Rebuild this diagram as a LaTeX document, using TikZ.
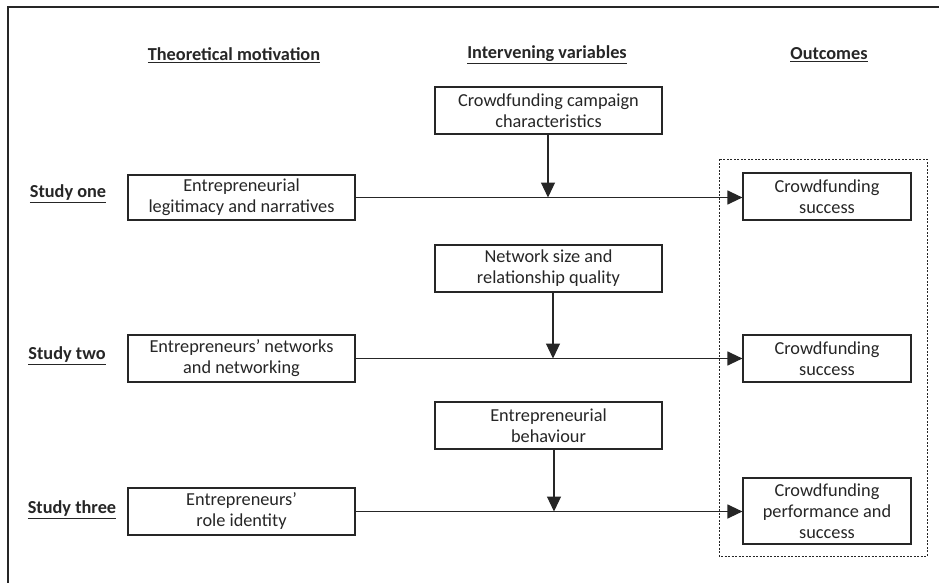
\documentclass[tikz,border=0pt]{standalone}
\usepackage{fontspec}
\setmainfont{Carlito}
\usetikzlibrary{arrows.meta}
\begin{document}
\begin{tikzpicture}[x=1pt,y=-1pt,
  box/.style={draw=black!85,line width=1.2pt,inner sep=0pt,align=center,text=black!85,font=\fontsize{18.3}{21}\selectfont},
  hdr/.style={font=\bfseries\fontsize{18.3}{21}\selectfont,inner sep=0pt,text=black!85},
  conn/.style={draw=black!85,line width=1.2pt},
  tip/.style={-{Triangle[length=15pt,width=14pt]}}]
\useasboundingbox (0,0) rectangle (939,583);
\fill[white] (0,0) rectangle (939,583);
\draw[line width=1.2pt,black!85] (8,590) -- (8,7) -- (945,7);
% headers
\node[hdr] (h1) at (234,55) {\underline{Theoretical motivation}};
\node[hdr] (h2) at (547,55) {\underline{Intervening variables}};
\node[hdr] (h3) at (829,55) {\underline{Outcomes}};
% study labels
\node[hdr] (s1) at (68,194) {\underline{Study one}};
\node[hdr] (s2) at (67,356) {\underline{Study two}};
\node[hdr] (s3) at (72,510) {\underline{Study three}};
% left boxes
\node[box,minimum width=227pt,minimum height=45pt] (l1) at (241.5,197.5) {Entrepreneurial\\legitimacy and narratives};
\node[box,minimum width=227pt,minimum height=47pt] (l2) at (241.5,358.5) {Entrepreneurs’ networks\\and networking};
\node[box,minimum width=227pt,minimum height=47pt] (l3) at (241.5,511.5) {Entrepreneurs’\\role identity};
% middle boxes
\node[box,minimum width=227pt,minimum height=47pt] (m1) at (548.5,110.5) {Crowdfunding campaign\\characteristics};
\node[box,minimum width=227pt,minimum height=47pt] (m2) at (548.5,268.5) {Network size and\\relationship quality};
\node[box,minimum width=227pt,minimum height=47pt] (m3) at (548.5,425.5) {Entrepreneurial\\behaviour};
% right boxes
\node[box,minimum width=168pt,minimum height=47pt] (r1) at (827,196.5) {Crowdfunding\\success};
\node[box,minimum width=168pt,minimum height=47pt] (r2) at (827,358.5) {Crowdfunding\\success};
\node[box,minimum width=168pt,minimum height=66pt] (r3) at (827,511) {Crowdfunding\\performance and\\success};
% dashed outcome group
\draw[dash pattern=on 2pt off 1.5pt,line width=0.9pt,black!85] (719,159) rectangle (927,556);
% horizontal connectors
\draw[conn,tip] (l1.east) -- (r1.west |- l1.east);
\draw[conn,tip] (l2.east) -- (r2.west |- l2.east);
\draw[conn,tip] (l3.east) -- (r3.west |- l3.east);
% junction points
\coordinate (j1) at (548,197.5);
\coordinate (j2) at (553,358.5);
\coordinate (j3) at (554,511.5);
\draw[conn,tip] (m1.south -| j1) -- (j1);
\draw[conn,tip] (m2.south -| j2) -- (j2);
\draw[conn,tip] (m3.south -| j3) -- (j3);
\end{tikzpicture}
\end{document}
